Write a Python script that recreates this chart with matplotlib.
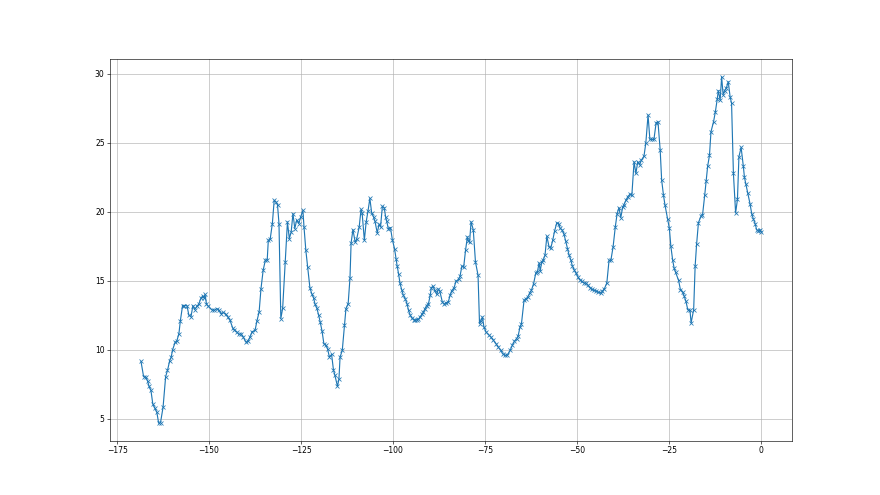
import matplotlib
matplotlib.use("Agg")
import matplotlib.pyplot as plt

hours = [
    -168.5, -167.8, -167.2, -166.7, -166.3, -165.8, -165.3, -164.8, -164.2, -163.7,
    -163.2, -162.5, -161.8, -161.3, -160.7, -160.3, -159.9, -159.2, -158.8, -158.2,
    -157.8, -157.2, -156.7, -156.0, -155.5, -154.9, -154.4, -153.9, -153.3, -152.8,
    -152.2, -151.7, -151.4, -151.1, -150.7, -150.2, -149.3, -148.6, -147.9, -147.3,
    -146.7, -146.1, -145.5, -144.9, -144.3, -143.6, -143.1, -142.5, -141.9, -141.3,
    -140.7, -140.0, -139.5, -138.9, -138.3, -137.5, -137.0, -136.4, -135.9, -135.3,
    -134.7, -134.2, -133.9, -133.4, -132.8, -132.3, -131.8, -131.4, -131.0, -130.5,
    -130.0, -129.3, -128.7, -128.2, -127.7, -127.2, -126.7, -126.2, -125.6, -125.1,
    -124.5, -124.2, -123.7, -123.2, -122.6, -122.1, -121.6, -121.2, -120.7, -120.2,
    -119.8, -119.3, -118.8, -118.2, -117.8, -117.3, -116.7, -116.2, -115.8, -115.1,
    -114.7, -114.4, -113.8, -113.2, -112.8, -112.2, -111.7, -111.4, -110.9, -110.3,
    -109.9, -109.2, -108.7, -108.4, -107.8, -107.3, -106.8, -106.3, -105.8, -105.3,
    -104.9, -104.3, -103.8, -103.4, -102.9, -102.4, -102.0, -101.7, -101.3, -100.7,
    -100.2, -99.6, -99.2, -98.9, -98.5, -98.1, -97.6, -97.2, -96.7, -96.2,
    -95.8, -95.3, -94.9, -94.4, -94.0, -93.5, -93.1, -92.7, -92.2, -91.8,
    -91.3, -90.9, -90.4, -89.9, -89.6, -89.1, -88.7, -88.1, -87.7, -87.3,
    -86.6, -86.1, -85.6, -85.0, -84.5, -84.1, -83.4, -82.9, -82.2, -81.8,
    -81.3, -80.8, -80.3, -79.8, -79.5, -79.2, -78.8, -78.2, -77.6, -76.9,
    -76.5, -76.1, -75.7, -75.3, -74.7, -74.0, -73.4, -72.7, -72.0, -71.4,
    -70.7, -70.2, -69.6, -68.9, -68.2, -67.6, -67.0, -66.4, -66.0, -65.5,
    -65.1, -64.4, -63.9, -63.4, -62.9, -62.4, -61.8, -61.2, -60.8, -60.3,
    -60.0, -59.6, -59.2, -58.7, -58.2, -57.6, -57.1, -56.6, -56.1, -55.5,
    -55.0, -54.6, -54.1, -53.6, -53.1, -52.6, -52.2, -51.7, -51.3, -50.8,
    -50.3, -49.8, -49.3, -48.7, -48.1, -47.6, -47.0, -46.5, -46.0, -45.4,
    -44.9, -44.2, -43.6, -43.1, -42.6, -41.9, -41.3, -40.8, -40.2, -39.6,
    -39.1, -38.6, -38.1, -37.6, -37.3, -36.7, -36.2, -35.6, -35.1, -34.5,
    -34.0, -33.5, -33.0, -32.5, -31.8, -31.3, -30.7, -30.2, -29.7, -29.1,
    -28.5, -28.0, -27.4, -27.0, -26.5, -26.1, -25.4, -24.9, -24.5, -24.0,
    -23.6, -23.2, -22.4, -21.9, -21.3, -20.9, -20.4, -19.9, -19.3, -19.0,
    -18.3, -17.9, -17.5, -17.0, -16.3, -15.9, -15.3, -14.9, -14.5, -14.0,
    -13.6, -12.9, -12.4, -11.9, -11.6, -11.1, -10.7, -10.3, -9.9, -9.4,
    -8.9, -8.4, -8.0, -7.5, -6.9, -6.4, -6.0, -5.4, -4.8, -4.5,
    -4.1, -3.6, -3.0, -2.5, -2.1, -1.6, -1.2, -0.7, -0.3, 0.0,
]

values = [
    9.14, 8.05, 8.0, 7.71, 7.33, 7.04, 6.07, 5.78, 5.46, 4.66,
    4.7, 5.83, 8.05, 8.49, 9.2, 9.45, 10.0, 10.55, 10.6, 11.15,
    12.1, 13.2, 13.2, 13.2, 12.5, 12.4, 13.2, 12.9, 13.15, 13.3,
    13.74, 13.9, 13.75, 14.0, 13.3, 13.15, 12.9, 12.85, 12.97, 12.85,
    12.6, 12.7, 12.56, 12.36, 12.12, 11.59, 11.4, 11.3, 11.1, 11.15,
    10.9, 10.55, 10.6, 10.9, 11.3, 11.4, 12.07, 12.73, 14.4, 15.76,
    16.5, 16.5, 17.94, 18.0, 19.15, 20.84, 20.7, 20.5, 19.15, 12.25,
    13.0, 16.36, 19.27, 18.06, 18.5, 19.87, 18.78, 19.39, 19.15, 19.63,
    20.1, 18.9, 17.2, 16.0, 14.5, 14.06, 13.76, 13.3, 13.0, 12.48,
    12.0, 11.35, 10.43, 10.3, 10.06, 9.46, 9.65, 8.54, 8.13, 7.33,
    7.88, 9.46, 9.94, 11.76, 12.97, 13.33, 15.22, 17.74, 18.71, 17.8,
    18.0, 18.9, 20.17, 19.9, 17.94, 19.27, 20.07, 20.97, 19.9, 19.63,
    19.3, 18.47, 19.1, 18.9, 20.4, 20.3, 19.6, 19.3, 18.78, 18.85,
    17.99, 17.33, 16.6, 16.1, 15.5, 14.8, 14.3, 13.94, 13.7, 13.33,
    12.85, 12.48, 12.3, 12.17, 12.12, 12.17, 12.2, 12.36, 12.55, 12.7,
    12.97, 13.2, 13.3, 13.94, 14.5, 14.6, 14.3, 14.0, 14.4, 14.25,
    13.45, 13.3, 13.4, 13.45, 13.94, 14.25, 14.5, 14.96, 15.1, 15.32,
    16.05, 16.0, 17.2, 18.18, 17.9, 17.8, 19.27, 18.7, 16.36, 15.4,
    11.88, 12.1, 12.36, 11.64, 11.27, 11.07, 10.91, 10.67, 10.43, 10.18,
    9.94, 9.7, 9.58, 9.6, 9.94, 10.3, 10.62, 10.8, 11.0, 11.64,
    11.88, 13.57, 13.7, 13.8, 14.1, 14.3, 14.79, 15.56, 15.6, 16.29,
    15.7, 16.36, 16.5, 16.85, 18.23, 17.45, 17.4, 17.94, 18.6, 19.2,
    19.15, 18.8, 18.7, 18.42, 17.9, 17.33, 16.9, 16.52, 16.1, 15.8,
    15.56, 15.3, 15.08, 14.96, 14.83, 14.83, 14.66, 14.5, 14.37, 14.3,
    14.27, 14.18, 14.1, 14.25, 14.4, 14.83, 16.48, 16.48, 17.45, 18.9,
    19.87, 20.3, 19.58, 20.33, 20.48, 20.84, 21.1, 21.28, 21.2, 23.63,
    22.78, 23.63, 23.4, 23.75, 24.04, 25.0, 27.02, 25.25, 25.25, 25.25,
    26.46, 26.53, 24.48, 22.3, 21.2, 20.5, 19.5, 18.79, 17.5, 16.48,
    15.9, 15.6, 15.03, 14.35, 14.2, 13.9, 13.5, 12.9, 12.85, 11.93,
    12.9, 16.05, 17.65, 19.22, 19.68, 19.74, 21.2, 22.25, 23.3, 24.1,
    25.8, 26.53, 27.26, 28.16, 28.79, 28.1, 29.8, 28.5, 28.79, 29.0,
    29.44, 28.35, 27.87, 22.8, 19.92, 20.9, 24.0, 24.67, 23.3, 22.5,
    22.0, 21.37, 20.6, 19.83, 19.5, 19.15, 18.71, 18.6, 18.71, 18.54,
]

fig, ax = plt.subplots(figsize=(16, 9), dpi=55)
ax.plot(hours, values, marker="x", color="C0")
ax.grid(True)
fig.savefig("out.png", dpi=55)
